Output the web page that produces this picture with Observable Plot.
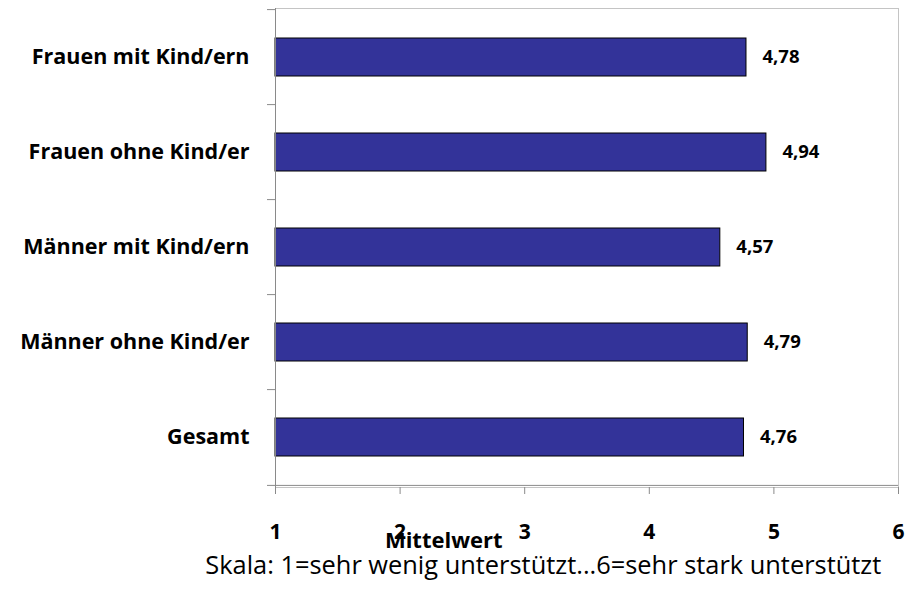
<!DOCTYPE html>
<html>
<head>
<meta charset="utf-8">
<script src="https://cdn.jsdelivr.net/npm/d3@7"></script>
<script src="https://cdn.jsdelivr.net/npm/@observablehq/plot@0.6"></script>
<style>
  html, body { margin: 0; padding: 0; background: #fff; }
</style>
</head>
<body>
<div id="chart"></div>
<script>
const categories = ["Frauen mit Kind/ern", "Frauen ohne Kind/er", "Männer mit Kind/ern", "Männer ohne Kind/er", "Gesamt"];
const values = [4.78, 4.94, 4.57, 4.79, 4.76];
const xTicks = [1, 2, 3, 4, 5, 6];
const xLabel = "Mittelwert";
const scaleNote = "Skala: 1=sehr wenig unterstützt...6=sehr stark unterstützt";

const data = categories.map((c, i) => ({category: c, value: values[i], label: values[i].toFixed(2).replace(".", ",")}));

const W = 907, H = 593;
const mTop = 8, mBottom = 106, mLeft = 275, mRight = 9;
const step = (H - mTop - mBottom) / categories.length;
const axisGray = "#8a8a8a";
const font = "'Open Sans', Lato, sans-serif";

const plot = Plot.plot({
  width: W,
  height: H,
  marginTop: mTop,
  marginBottom: mBottom,
  marginLeft: mLeft,
  marginRight: mRight,
  style: {fontFamily: font, background: "#fff", overflow: "visible"},
  x: {domain: [1, 6], ticks: xTicks, label: null},
  y: {domain: categories, paddingInner: 0.6, paddingOuter: 0.3, label: null},
  marks: [
    Plot.frame({stroke: "#c4c4c4"}),
    Plot.barX(data, {x1: 1, x2: "value", y: "category", fill: "#333399", stroke: "#000", strokeWidth: 1}),
    Plot.text(data, {x: "value", y: "category", text: "label", textAnchor: "start", dx: 16, fontWeight: "bold", fontSize: 18.5, fill: "#000"}),
    Plot.ruleX([1], {stroke: axisGray}),
    Plot.ruleY([categories[categories.length - 1]], {dy: step / 2, stroke: axisGray}),
    Plot.axisY({tickSize: 8, dy: -step / 2, tickFormat: () => "", stroke: axisGray, label: null}),
    Plot.axisY({ticks: [categories[categories.length - 1]], tickSize: 8, dy: step / 2, tickFormat: () => "", stroke: axisGray, label: null}),
    Plot.axisY({tickSize: 0, tickPadding: 26, fontSize: 21.5, fontWeight: "bold", fill: "#000", label: null}),
    Plot.axisX({ticks: xTicks, tickSize: 7, tickFormat: () => "", stroke: axisGray, label: null}),
    Plot.axisX({ticks: xTicks, tickSize: 0, tickPadding: 37, tickFormat: d3.format("d"), fontSize: 21, fontWeight: "bold", fill: "#000", label: null}),
    Plot.text([xLabel], {x: 2.35, frameAnchor: "bottom", dy: 60, fontSize: 22, fontWeight: "bold", fill: "#000"}),
    Plot.text([scaleNote], {x: 3.149, frameAnchor: "bottom", dy: 86, fontSize: 25.4, fill: "#000"})
  ]
});
document.getElementById("chart").appendChild(plot);
</script>
</body>
</html>
